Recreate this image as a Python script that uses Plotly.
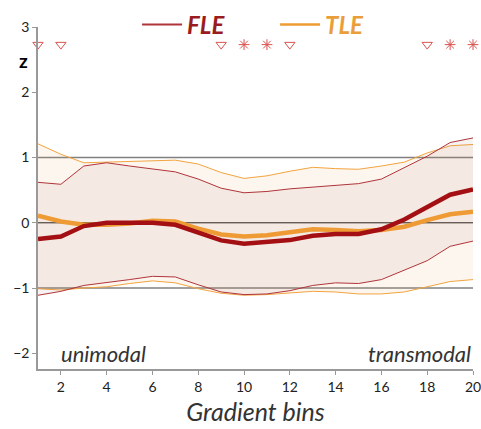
import plotly.graph_objects as go

# Data
bins = list(range(1, 21))

fle_mean = [-0.25, -0.21, -0.05, 0.0, 0.0, 0.0, -0.03, -0.15, -0.27, -0.32,
            -0.30, -0.265, -0.20, -0.17, -0.17, -0.10, 0.05, 0.245, 0.43, 0.51]
fle_upper = [0.62, 0.59, 0.87, 0.92, 0.87, 0.83, 0.78, 0.67, 0.53, 0.46,
             0.48, 0.52, 0.55, 0.57, 0.60, 0.67, 0.84, 1.02, 1.23, 1.30]
fle_lower = [-1.11, -1.05, -0.96, -0.92, -0.87, -0.82, -0.83, -0.95, -1.06, -1.10,
             -1.09, -1.04, -0.96, -0.92, -0.93, -0.87, -0.73, -0.58, -0.36, -0.28]

tle_mean = [0.11, 0.02, -0.03, -0.03, -0.01, 0.03, 0.02, -0.09, -0.18, -0.21,
            -0.19, -0.15, -0.10, -0.11, -0.13, -0.11, -0.06, 0.04, 0.13, 0.17]
tle_upper = [1.21, 1.05, 0.92, 0.93, 0.95, 0.96, 0.96, 0.90, 0.77, 0.68,
             0.72, 0.79, 0.85, 0.83, 0.82, 0.87, 0.93, 1.07, 1.18, 1.20]
tle_lower = [-1.01, -1.03, -1.00, -0.98, -0.93, -0.89, -0.92, -1.01, -1.08, -1.11,
             -1.10, -1.08, -1.05, -1.06, -1.09, -1.09, -1.06, -0.98, -0.90, -0.87]

# significance markers
sig_trend_bins = [1, 2, 9, 12, 18]
sig_star_bins = [10, 11, 19, 20]
sig_level = 2.73

x_ticks = [2, 4, 6, 8, 10, 12, 14, 16, 18, 20]
y_ticks = [-2, -1, 0, 1, 2, 3]

# Colors
FLE_DARK = '#A30F12'
FLE_THIN = '#B0343A'
FLE_TEXT = '#9B1C20'
TLE_THICK = '#EE9B35'
TLE_THIN = '#F2A43F'
TLE_TEXT = '#EA9E3A'
MARK = '#D9534F'
FONT = 'Lato'

fig = go.Figure()

# TLE band
fig.add_trace(go.Scatter(x=bins, y=tle_lower, mode='lines',
                         line=dict(color=TLE_THIN, width=1), showlegend=False, hoverinfo='skip'))
fig.add_trace(go.Scatter(x=bins, y=tle_upper, mode='lines', fill='tonexty',
                         fillcolor='rgba(235,165,85,0.1)',
                         line=dict(color=TLE_THIN, width=1), showlegend=False, hoverinfo='skip'))

# FLE band
fig.add_trace(go.Scatter(x=bins, y=fle_lower, mode='lines',
                         line=dict(color=FLE_THIN, width=1), showlegend=False, hoverinfo='skip'))
fig.add_trace(go.Scatter(x=bins, y=fle_upper, mode='lines', fill='tonexty',
                         fillcolor='rgba(150,100,90,0.075)',
                         line=dict(color=FLE_THIN, width=1), showlegend=False, hoverinfo='skip'))

# Means
fig.add_trace(go.Scatter(x=bins, y=tle_mean, mode='lines',
                         line=dict(color=TLE_THICK, width=4.5), showlegend=False))
fig.add_trace(go.Scatter(x=bins, y=fle_mean, mode='lines',
                         line=dict(color=FLE_DARK, width=4.5), showlegend=False))

# Significance markers
fig.add_trace(go.Scatter(x=sig_trend_bins, y=[sig_level] * len(sig_trend_bins), mode='markers',
                         marker=dict(symbol='triangle-down-open', size=9, color=MARK,
                                     line=dict(width=1, color=MARK)),
                         cliponaxis=False, showlegend=False))
fig.add_trace(go.Scatter(x=sig_star_bins, y=[sig_level] * len(sig_star_bins), mode='markers',
                         marker=dict(symbol='asterisk-open', size=9, color=MARK,
                                     line=dict(width=1, color=MARK)),
                         cliponaxis=False, showlegend=False))

# Legend entries
fig.add_trace(go.Scatter(x=[None], y=[None], mode='lines', line=dict(color=FLE_THIN, width=2),
                         name=f"<span style='color:{FLE_TEXT}'>FLE</span>"))
fig.add_trace(go.Scatter(x=[None], y=[None], mode='lines', line=dict(color=TLE_THICK, width=2.5),
                         name=f"<span style='color:{TLE_TEXT}'>TLE</span>"))

# Reference lines
fig.add_hline(y=1, line_color='#808080', line_width=1.5, layer='below')
fig.add_hline(y=-1, line_color='#808080', line_width=1.5, layer='below')
fig.add_hline(y=0, line_color='#111111', line_width=1, layer='below')

# Annotations
fig.add_annotation(x=1.9, y=-2, text='unimodal', showarrow=False, xanchor='left',
                   font=dict(family=FONT, size=22, color='#333333', style='italic'))
fig.add_annotation(x=20, y=-2, text='transmodal', showarrow=False, xanchor='right',
                   font=dict(family=FONT, size=22, color='#333333', style='italic'))
fig.add_annotation(x=0, xref='paper', xshift=-8, y=2.48, text='<b>z</b>', showarrow=False,
                   xanchor='right', font=dict(family=FONT, size=19, color='#000000'))

fig.update_layout(
    width=481, height=429,
    margin=dict(l=38, r=8, t=27, b=60, autoexpand=False),
    plot_bgcolor='white', paper_bgcolor='white',
    font=dict(family=FONT, color='#222222'),
    legend=dict(orientation='h', x=0.545, xanchor='center', y=1.072, yanchor='top',
                traceorder='normal', entrywidth=83,
                font=dict(family=FONT, size=24, weight='bold', style='italic'),
                itemwidth=40, bgcolor='rgba(0,0,0,0)'),
)

fig.update_xaxes(
    range=[1, 20], tickvals=x_ticks, ticks='outside', ticklen=4, tickcolor='#999999',
    showline=True, linecolor='#999999', linewidth=1.5, showgrid=False, zeroline=False,
    automargin=False, ticklabeloverflow='allow',
    tickfont=dict(family=FONT, size=14, color='#222222'),
    title=dict(text='Gradient bins', font=dict(family=FONT, size=25, color='#333333', style='italic'),
               standoff=10),
)
fig.update_yaxes(
    range=[-2.24, 3], tickvals=y_ticks, ticks='outside', ticklen=4, tickcolor='#999999',
    showline=True, linecolor='#999999', linewidth=1.5, showgrid=False, zeroline=False,
    automargin=False,
    tickfont=dict(family=FONT, size=14, color='#222222'),
)

# drop the browser's default 8px body margin so the figure fills the window
fig.write_html("out.html", config={'displayModeBar': False},
               post_script="document.body.style.margin='0px';")
